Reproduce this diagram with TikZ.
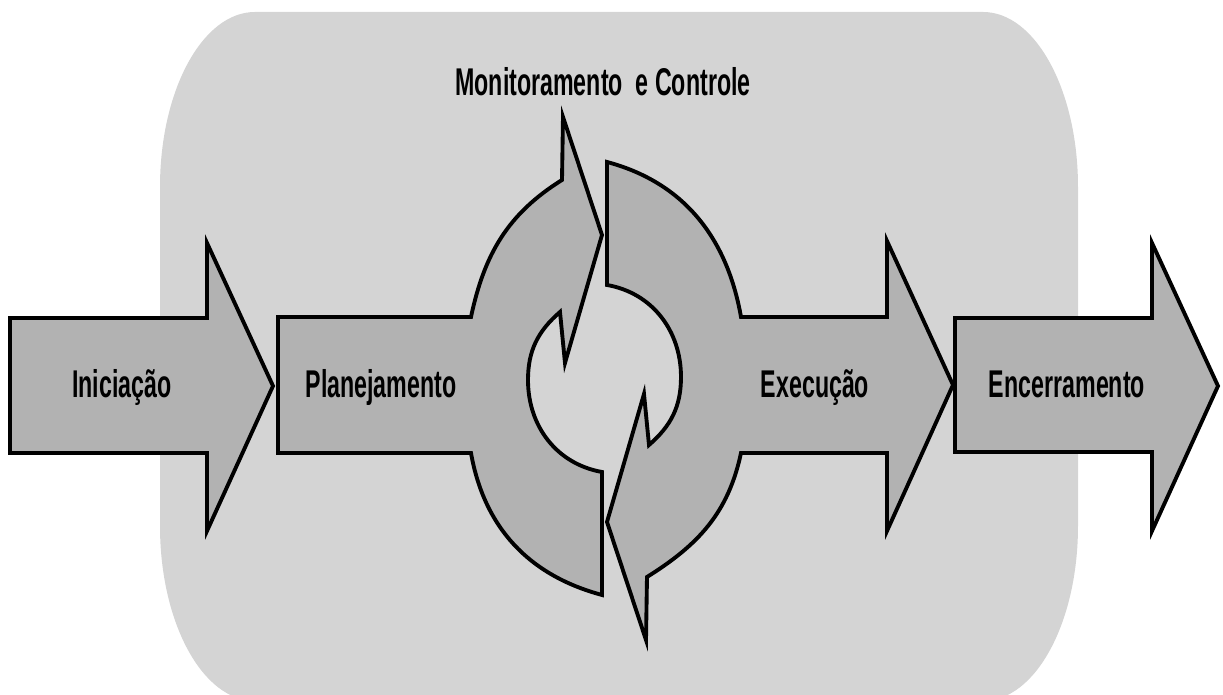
\documentclass[tikz,border=0pt]{standalone}
\usepackage{fontspec}
\newfontfamily\narrowsans[FakeStretch=0.6]{Liberation Sans}
\definecolor{panelgray}{RGB}{212,212,212}
\definecolor{phasegray}{RGB}{178,178,178}

\begin{document}
\begin{tikzpicture}[x=0.01cm, y=0.01cm,
    phasebox/.style={draw=black, fill=phasegray, line width=1.1pt},
    phaselabel/.style={font=\narrowsans\bfseries\fontsize{11}{13}\selectfont, inner sep=0pt, anchor=base}]
    \clip (0,0) rectangle (1223,695);

    \fill[panelgray] (160,508) -- (160,169) arc[start angle=180, end angle=270, x radius=95, y radius=175]
        -- (983,-6) arc[start angle=270, end angle=360, x radius=95, y radius=175]
        -- (1078,508) arc[start angle=0, end angle=90, x radius=95, y radius=175]
        -- (255,683) arc[start angle=90, end angle=180, x radius=95, y radius=175] -- cycle;

    \draw[phasebox] (10,377) -- (207,377) -- (207,452) -- (273,309) -- (207,164) -- (207,242) -- (10,242) -- cycle;

    \draw[phasebox] (278,378) -- (471,378) to[out=78, in=212] (562,515) -- (563,578) -- (602,460) -- (565,332)
        -- (560,383) to[out=221, in=90] (528,315) to[out=270, in=170] (602,223)
        -- (602,100) to[out=165, in=-80] (471,242) -- (278,242) -- cycle;

    \draw[phasebox] (607,533) to[out=-15, in=100] (741,378) -- (887,378) -- (887,454) -- (953,310) -- (887,164)
        -- (887,242) -- (741,242) to[out=258, in=32] (647,118) -- (646,55) -- (607,173) -- (644,301)
        -- (649,250) to[out=41, in=270] (681,318) to[out=90, in=350] (607,410) -- cycle;

    \draw[phasebox] (955,377) -- (1152,377) -- (1152,452) -- (1218,309) -- (1152,164) -- (1152,243) -- (955,243) -- cycle;

    \node[phaselabel] (ini) at (122,297) {Iniciação};
    \node[phaselabel] (plan) at (381,297) {Planejamento};
    \node[phaselabel] (exe) at (815,297) {Execução};
    \node[phaselabel] (enc) at (1067,297) {Encerramento};
    \node[phaselabel] (mon) at (603,599) {Monitoramento\ \ e Controle};
\end{tikzpicture}
\end{document}
